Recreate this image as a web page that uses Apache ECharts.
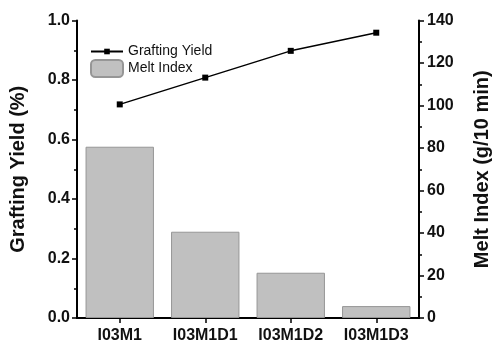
<!DOCTYPE html>
<html><head><meta charset="utf-8">
<script src="https://cdn.jsdelivr.net/npm/echarts@6/dist/echarts.min.js"></script>
<style>html,body{margin:0;padding:0;background:#fff}#c{width:500px;height:344px}</style>
</head><body><div id="c"></div>
<script>
const categories = ['I03M1', 'I03M1D1', 'I03M1D2', 'I03M1D3'];
const graftingYield = [0.718, 0.808, 0.898, 0.959];
const meltIndex = [80.6, 40.6, 21.3, 5.6];
const leftTicks = { min: 0, max: 1.0, interval: 0.2 };
const rightTicks = { min: 0, max: 140, interval: 20 };

const FONT = '"Liberation Sans", Arial, sans-serif';
const axisLine = { show: true, lineStyle: { color: '#000', width: 2 } };
const tickStyle = { color: '#000', width: 1.5 };

const chart = echarts.init(document.getElementById('c'), null, { renderer: 'canvas' });
chart.setOption({
  animation: false,
  backgroundColor: '#fff',
  grid: { left: 70, right: 67, top: 20.5, bottom: 26, containLabel: false },
  legend: [
    { data: ['Grafting Yield'], left: 85, top: 39.5, itemWidth: 32, itemHeight: 7, itemGap: 5,
      textStyle: { fontFamily: FONT, fontSize: 14, color: '#111' }, selectedMode: false },
    { data: ['Melt Index'], left: 85, top: 54, itemWidth: 32, itemHeight: 17, itemGap: 5,
      textStyle: { fontFamily: FONT, fontSize: 14, color: '#111' }, selectedMode: false }
  ],
  xAxis: [
    { type: 'category', data: categories, position: 'bottom', boundaryGap: true,
      axisLine: axisLine, axisTick: { show: true, alignWithLabel: true, length: 5, lineStyle: tickStyle },
      axisLabel: { fontFamily: FONT, fontSize: 16, fontWeight: 'bold', color: '#111', margin: 10 },
      splitLine: { show: false } },
    { type: 'category', data: categories, position: 'top', boundaryGap: true,
      axisLine: axisLine, axisTick: { show: true, inside: true, alignWithLabel: true, length: 5, lineStyle: tickStyle },
      axisLabel: { show: false }, splitLine: { show: false } }
  ],
  yAxis: [
    { type: 'value', position: 'left', min: leftTicks.min, max: leftTicks.max, interval: leftTicks.interval,
      name: 'Grafting Yield (%)', nameLocation: 'middle', nameGap: 49, nameRotate: 90,
      nameTextStyle: { fontFamily: FONT, fontSize: 20, fontWeight: 'bold', color: '#111' },
      axisLine: axisLine, axisTick: { show: true, length: 5, lineStyle: tickStyle },
      minorTick: { show: true, splitNumber: 2, length: 3, lineStyle: tickStyle },
      axisLabel: { fontFamily: FONT, fontSize: 16, fontWeight: 'bold', color: '#111', margin: 7,
        formatter: v => v.toFixed(1) },
      splitLine: { show: false } },
    { type: 'value', position: 'right', min: rightTicks.min, max: rightTicks.max, interval: rightTicks.interval,
      name: 'Melt Index (g/10 min)', nameLocation: 'middle', nameGap: 53, nameRotate: 90,
      nameTextStyle: { fontFamily: FONT, fontSize: 20, fontWeight: 'bold', color: '#111' },
      axisLine: axisLine, axisTick: { show: true, length: 5, lineStyle: tickStyle },
      minorTick: { show: true, splitNumber: 2, length: 3, lineStyle: tickStyle },
      axisLabel: { fontFamily: FONT, fontSize: 16, fontWeight: 'bold', color: '#111', margin: 8 },
      splitLine: { show: false } }
  ],
  series: [
    { name: 'Melt Index', type: 'bar', yAxisIndex: 1, xAxisIndex: 0, data: meltIndex,
      barCategoryGap: '20%',
      itemStyle: { color: '#c0c0c0', borderColor: '#969696', borderWidth: 1 } },
    { name: 'Grafting Yield', type: 'line', yAxisIndex: 0, xAxisIndex: 0, data: graftingYield,
      symbol: 'rect', symbolSize: 6, showSymbol: true,
      lineStyle: { color: '#000', width: 1.5 }, itemStyle: { color: '#000' } }
  ]
});
</script></body></html>
